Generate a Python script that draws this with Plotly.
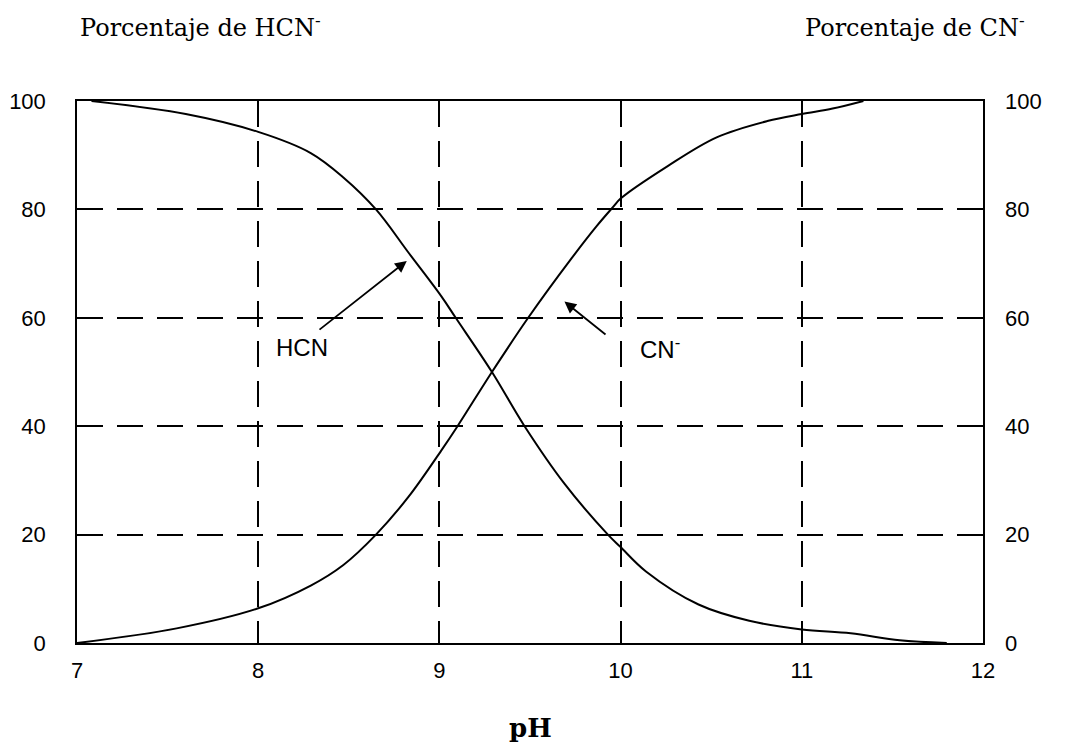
import plotly.graph_objects as go

# pH vs. percentage of HCN / CN-
ph_hcn = [7.08, 7.6, 8.0, 8.29, 8.47, 8.65, 8.83, 9.01, 9.09, 9.29, 9.47, 9.69, 9.93, 10.0, 10.14, 10.43,
          10.71, 11.0, 11.27, 11.54, 11.8]
pct_hcn = [100, 97.6, 94.3, 90.4, 85.9, 80, 72, 64, 60, 50, 40, 29.4, 20, 17.7, 13.2, 7.1,
           4.1, 2.5, 1.8, 0.5, 0]

ph_cn = [7.0, 7.55, 8.0, 8.29, 8.47, 8.65, 8.83, 9.01, 9.1, 9.29, 9.49, 9.73, 9.87, 9.96, 10.0, 10.26,
         10.53, 10.81, 11.0, 11.17, 11.34]
pct_cn = [0, 2.7, 6.4, 10.6, 14.4, 20, 27, 35.5, 40, 50, 60, 71, 77, 80.5, 82, 88,
          93.3, 96.3, 97.6, 98.6, 100]

x_ticks = [7, 8, 9, 10, 11, 12]
y_ticks = [0, 20, 40, 60, 80, 100]

sans = "Liberation Sans, Arial, sans-serif"
serif = "DejaVu Serif, serif"

fig = go.Figure()
fig.add_trace(go.Scatter(x=ph_hcn, y=pct_hcn, mode="lines",
                         line=dict(color="black", width=2, shape="spline", smoothing=1.0), showlegend=False))
fig.add_trace(go.Scatter(x=ph_cn, y=pct_cn, mode="lines",
                         line=dict(color="black", width=2, shape="spline", smoothing=1.0), showlegend=False,
                         yaxis="y2"))

# the page has an 8px body margin, so the figure is 8px smaller and shifted
fig.update_layout(
    width=1057, height=737,
    margin=dict(l=69, r=82, t=93, b=102),
    plot_bgcolor="white", paper_bgcolor="white",
    font=dict(family=sans, size=22, color="black"),
    xaxis=dict(range=[7, 12], tickvals=x_ticks, showline=True, mirror=True, linecolor="black", linewidth=1.5,
               showgrid=True, gridcolor="black", gridwidth=2, griddash="26px,14px", zeroline=False,
               ticks="", ticklabelstandoff=7, automargin=False),
    yaxis=dict(range=[0, 100], tickvals=y_ticks, showline=True, mirror=True, linecolor="black", linewidth=1.5,
               showgrid=True, gridcolor="black", gridwidth=2, griddash="26px,14px", zeroline=False,
               ticks="", ticklabelstandoff=25, automargin=False),
    yaxis2=dict(range=[0, 100], tickvals=y_ticks, overlaying="y", side="right", showgrid=False, zeroline=False,
                showline=False, ticks="", ticklabelstandoff=21, automargin=False),
)

# labels with arrows
fig.add_annotation(x=8.82, y=70.5, ax=8.33, ay=57.6, axref="x", ayref="y", text="", showarrow=True,
                   arrowhead=2, arrowsize=1.3, arrowwidth=1.8, arrowcolor="black")
fig.add_annotation(x=8.24, y=54.5, text="HCN", showarrow=False, font=dict(size=24))
fig.add_annotation(x=9.69, y=63, ax=9.925, ay=56.7, axref="x", ayref="y", text="", showarrow=True,
                   arrowhead=2, arrowsize=1.3, arrowwidth=1.8, arrowcolor="black")
fig.add_annotation(x=10.22, y=54.5, text="CN<sup>-</sup>", showarrow=False, font=dict(size=24))

# side titles and x label
fig.add_annotation(x=0.001, y=1.138, xref="paper", yref="paper", xanchor="left", yanchor="middle",
                   text="Porcentaje de HCN<sup>-</sup>", showarrow=False, font=dict(family=serif, size=24))
fig.add_annotation(x=1.0486, y=1.138, xref="paper", yref="paper", xanchor="right", yanchor="middle",
                   text="Porcentaje de CN<sup>-</sup>", showarrow=False, font=dict(family=serif, size=24))
fig.add_annotation(x=0.5, y=-0.157, xref="paper", yref="paper", xanchor="center", yanchor="middle",
                   text="<b>pH</b>", showarrow=False, font=dict(family=serif, size=26))

fig.write_html("out.html")
